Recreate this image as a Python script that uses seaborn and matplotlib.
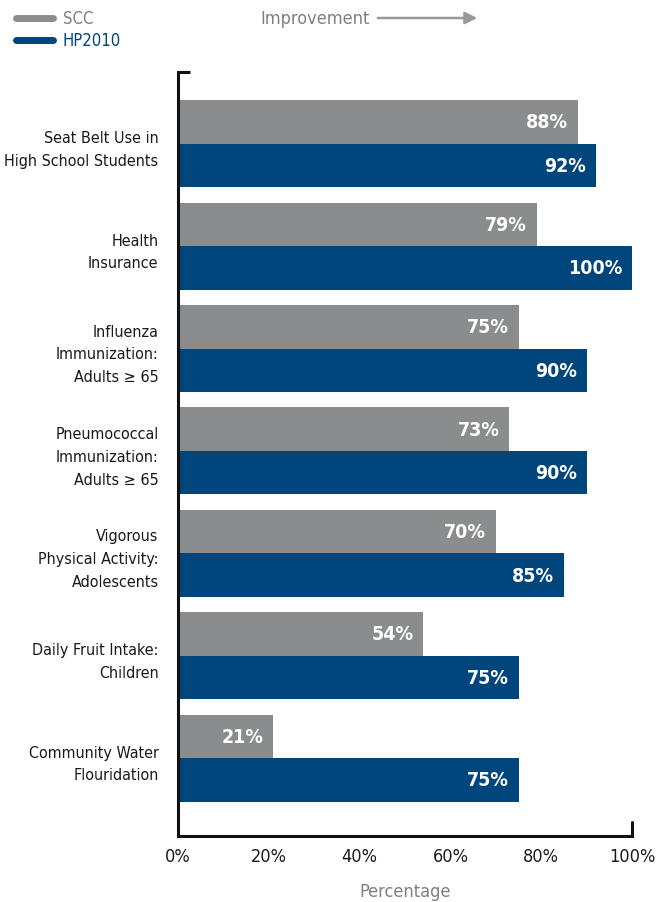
import numpy as np
import pandas as pd
import matplotlib
matplotlib.use("Agg")
import matplotlib.pyplot as plt
import seaborn as sns

# Chart data
categories = [
    "Seat Belt Use in\nHigh School Students",
    "Health\nInsurance",
    "Influenza\nImmunization:\nAdults \u2265 65",
    "Pneumococcal\nImmunization:\nAdults \u2265 65",
    "Vigorous\nPhysical Activity:\nAdolescents",
    "Daily Fruit Intake:\nChildren",
    "Community Water\nFlouridation",
]
scc_values = [88, 79, 75, 73, 70, 54, 21]
hp2010_values = [92, 100, 90, 90, 85, 75, 75]
series_names = ["SCC", "HP2010"]
x_ticks = [0, 20, 40, 60, 80, 100]

GRAY = "#8b8c8e"
BLUE = "#00457c"
TEXT_GRAY = "#7f7f7f"

df = pd.DataFrame({
    "category": categories * 2,
    "value": scc_values + hp2010_values,
    "series": [series_names[0]] * len(categories) + [series_names[1]] * len(categories),
})

sns.set_theme(style="white")
plt.rcParams["font.family"] = ["DejaVu Sans"]
plt.rcParams["font.stretch"] = "condensed"

fig = plt.figure(figsize=(6.62, 9.03), dpi=100)
ax = fig.add_axes([178 / 662, 1 - 837 / 903, (632 - 178) / 662, (837 - 73) / 903])

sns.barplot(data=df, x="value", y="category", hue="series", orient="h",
            palette=[GRAY, BLUE], width=0.85, saturation=1, legend=False,
            linewidth=0, ax=ax)

# value labels inside the bar ends
for container in ax.containers:
    labels = [f"{int(round(b.get_width()))}%" for b in container]
    ax.bar_label(container, labels=labels, padding=-7, color="white",
                 fontsize=14, fontweight="bold")
for t in ax.texts:
    t.set_horizontalalignment("right")

ax.set_xlim(0, 100)
ax.set_ylim(6.76, -0.70)
ax.set_xticks(x_ticks)
ax.set_xticklabels([f"{v}%" for v in x_ticks], fontsize=13, color="#1a1a1a")
ax.tick_params(axis="x", direction="in", length=14, width=2.2, color="#111111", pad=8)
ax.tick_params(axis="y", length=0, pad=14)
ax.set_yticks(range(len(categories)))
ax.set_yticklabels(categories, fontsize=11.5, color="#1a1a1a", linespacing=1.65)
ax.set_ylabel("")
ax.set_xlabel("Percentage", fontsize=13, color=TEXT_GRAY, labelpad=12)

for side in ["top", "right"]:
    ax.spines[side].set_visible(False)
for side in ["left", "bottom"]:
    ax.spines[side].set_color("#111111")
    ax.spines[side].set_linewidth(2.2)

# small cap at top of the left axis
ax.plot([0, 12 / 454], [1, 1], transform=ax.transAxes, color="#111111",
        lw=2.2, clip_on=False, solid_capstyle="butt")
# tick at 100% end
ax.plot([1, 1], [0, 14 / 764], transform=ax.transAxes, color="#111111",
        lw=2.2, clip_on=False)

# legend drawn at top-left
fig.lines.append(plt.Line2D([16 / 662, 53 / 662], [1 - 19 / 903] * 2,
                            transform=fig.transFigure, color=GRAY, lw=5,
                            solid_capstyle="round"))
fig.lines.append(plt.Line2D([16 / 662, 53 / 662], [1 - 41 / 903] * 2,
                            transform=fig.transFigure, color=BLUE, lw=5,
                            solid_capstyle="round"))
fig.text(63 / 662, 1 - 19 / 903, series_names[0], color=TEXT_GRAY, fontsize=12, va="center")
fig.text(63 / 662, 1 - 41 / 903, series_names[1], color=BLUE, fontsize=12, va="center")

# improvement arrow
fig.text(260 / 662, 1 - 19 / 903, "Improvement", color=TEXT_GRAY, fontsize=13, va="center")
fig.add_artist(matplotlib.patches.FancyArrowPatch(
    (375 / 662, 1 - 19 / 903), (480 / 662, 1 - 19 / 903),
    transform=fig.transFigure, arrowstyle="-|>", mutation_scale=18,
    color="#999999", lw=1.8))

fig.savefig("out.png", dpi=100)
